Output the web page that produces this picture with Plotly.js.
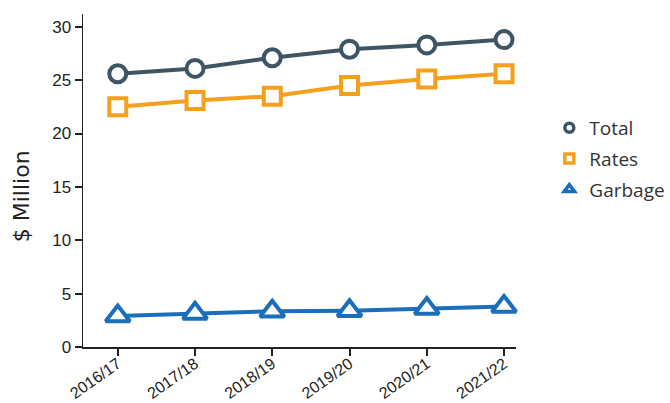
<!DOCTYPE html>
<html>
<head>
<meta charset="utf-8">
<script src="https://cdn.plot.ly/plotly-3.0.1.min.js"></script>
<style>html,body{margin:0;padding:0;background:#fff;}#chart{width:670px;height:403px;}</style>
</head>
<body>
<div id="chart"></div>
<script>
const years = ["2016/17", "2017/18", "2018/19", "2019/20", "2020/21", "2021/22"];
const total = [25.6, 26.1, 27.1, 27.9, 28.3, 28.8];
const rates = [22.5, 23.1, 23.5, 24.5, 25.1, 25.6];
const garbage = [2.9, 3.15, 3.35, 3.4, 3.6, 3.8];
const yTitle = '$ Million';

const series = [
  {name: 'Total', y: total, color: '#3e5566', symbol: 'circle', size: 17},
  {name: 'Rates', y: rates, color: '#f5a01c', symbol: 'square', size: 17},
  {name: 'Garbage', y: garbage, color: '#1b6fba', symbol: 'triangle-up', size: 21}
];

const data = [];
series.forEach(s => {
  data.push({
    type: 'scatter', mode: 'lines+markers', name: s.name, x: years, y: s.y,
    showlegend: false,
    line: {color: s.color, width: 4},
    marker: {symbol: s.symbol, size: s.size, color: '#ffffff', line: {color: s.color, width: 4}},
    cliponaxis: false
  });
});
// legend entries (markers only, as in the reference legend)
series.forEach(s => {
  data.push({
    type: 'scatter', mode: 'markers', name: s.name, x: [null], y: [null],
    legendgroup: s.name,
    marker: {symbol: s.symbol, size: 9, color: '#ffffff', line: {color: s.color, width: 3.5}}
  });
});

const layout = {
  width: 670, height: 403,
  margin: {l: 83, r: 154, t: 14, b: 56, autoexpand: false},
  paper_bgcolor: '#fff', plot_bgcolor: '#fff',
  showlegend: true,
  legend: {x: 1.077, y: 0.715, xanchor: 'left', yanchor: 'top',
           font: {family: 'Open Sans, sans-serif', size: 19, color: '#333'},
           tracegroupgap: 3, itemwidth: 30},
  xaxis: {
    type: 'category', range: [-0.45, 5.155],
    showline: true, linecolor: '#222', linewidth: 1.5,
    ticks: 'outside', ticklen: 7, tickwidth: 2, tickcolor: '#222',
    showgrid: false, zeroline: false,
    tickangle: -35, ticklabelstandoff: -7,
    tickfont: {family: 'Liberation Sans, Arial, sans-serif', size: 16, color: '#222'}
  },
  yaxis: {
    range: [0, 31.2],
    tickvals: [0, 5, 10, 15, 20, 25, 30],
    showline: true, linecolor: '#222', linewidth: 1.5,
    ticks: 'outside', ticklen: 7, tickwidth: 2, tickcolor: '#222',
    showgrid: false, zeroline: false,
    tickfont: {family: 'Liberation Sans, Arial, sans-serif', size: 17, color: '#222'}
  },
  annotations: [{
    text: yTitle, textangle: -90, xref: 'paper', yref: 'paper',
    x: -0.143, y: 0.453, xanchor: 'center', yanchor: 'middle', showarrow: false,
    font: {family: 'DejaVu Sans, sans-serif', size: 22, color: '#222'}
  }]
};

Plotly.newPlot('chart', data, layout, {displayModeBar: false, staticPlot: true});
</script>
</body>
</html>
